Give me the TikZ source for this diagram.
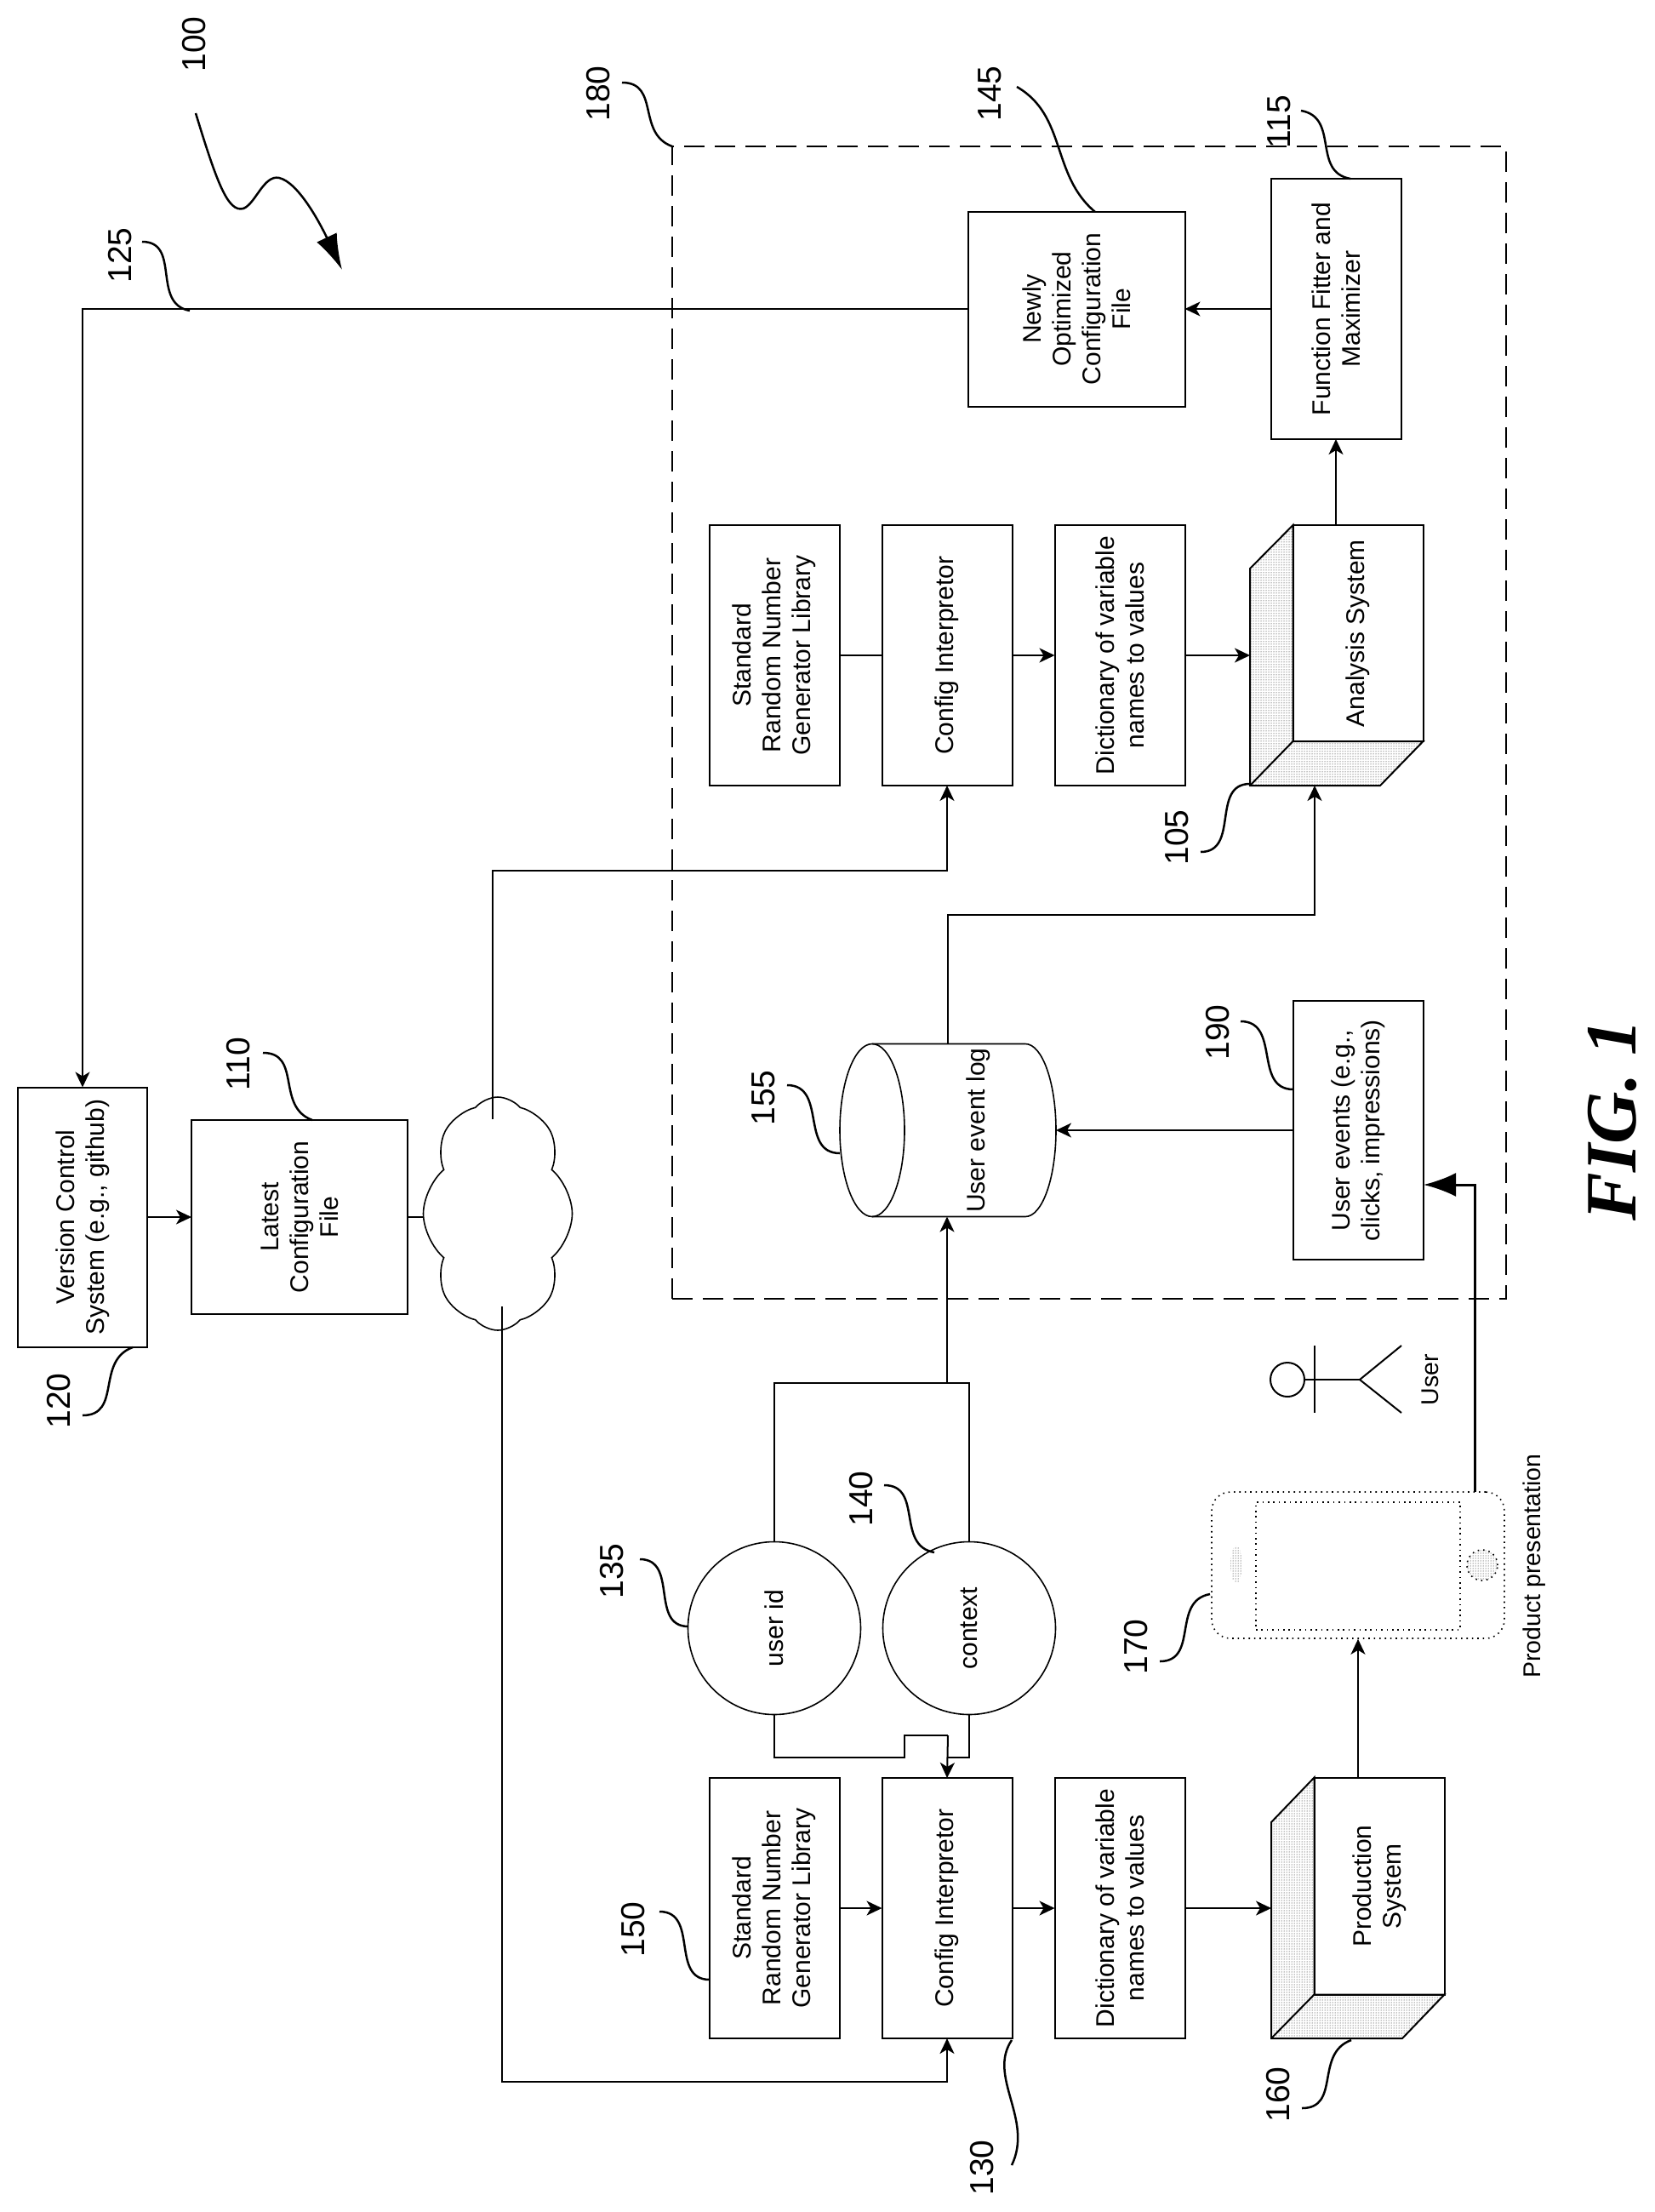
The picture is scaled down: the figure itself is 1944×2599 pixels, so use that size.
\documentclass[tikz,border=0pt]{standalone}
\usepackage{fontspec}
\setmainfont{Liberation Sans}
\newfontfamily\figfont{Liberation Serif}
\usepackage{tikz}
\usetikzlibrary{arrows.meta, shapes, shapes.geometric, shapes.symbols, patterns}

\begin{document}
\begin{tikzpicture}[x=1pt, y=-1pt,
        block/.style={draw, line width=2pt, rotate=90, align=center, inner sep=0pt, outer sep=0pt, font=\fontsize{30}{35}\selectfont},
        rowbox/.style={block, minimum width=306pt, minimum height=153pt},
        flow/.style={line width=2pt, -{Stealth[length=18pt, width=17pt, inset=5pt]}},
        plain/.style={line width=2pt},
        bigflow/.style={line width=3pt, -{Latex[length=38pt, width=28pt]}},
        leader/.style={line width=2.5pt},
        refnum/.style={rotate=90, inner sep=0pt, font=\fontsize{39}{39}\selectfont},
        side/.style={draw, line width=2pt, pattern=dots},
        caption/.style={rotate=90, inner sep=0pt, font=\fontsize{28.5}{28.5}\selectfont},
        phonedot/.style={draw, line width=1.6pt, dash pattern=on 1.6pt off 4.8pt}]
    \useasboundingbox (0,0) rectangle (1944,2599);

    % upper part
    \node[draw, line width=2.5pt, dash pattern=on 24pt off 12pt, minimum width=980pt, minimum height=1354pt, inner sep=0pt] (frame) at (1280,849) {};
    \node[block, minimum width=305pt, minimum height=152pt] (vcs) at (97,1430) {Version Control\\System (e.g., github)};
    \node[block, minimum width=228pt, minimum height=254pt] (latest) at (352,1430) {Latest\\Configuration\\File};
    \node[cloud, draw, line width=1.6pt, rotate=90, cloud puffs=8, cloud puff arc=100, aspect=1.5, inner sep=0pt, minimum width=274pt, minimum height=175pt] (net) at (585,1426) {};
    \node[block, minimum width=229pt, minimum height=255pt] (newly) at (1265,363) {Newly\\Optimized\\Configuration\\File};
    \node[rowbox, minimum height=153pt] (fitter) at (1570,363) {Function Fitter and\\Maximizer};
    \node[rowbox] (srng) at (910,770) {Standard\\Random Number\\Generator Library};
    \node[rowbox] (config) at (1113,770) {Config Interpretor};
    \node[rowbox] (dict) at (1316,770) {Dictionary of variable\\names to values};
    \node[block, minimum width=254pt, minimum height=153pt] (analysis) at (1596,744) {Analysis System};
    \draw[side] (analysis.north east) -- (1469,668) -- (1469,923) -- (1622,923) -- (analysis.south west) -- (analysis.north west) -- cycle;
    \draw[line width=2pt] (analysis.north west) -- (1469,923);
    \node[rotate=90, inner sep=0pt, outer sep=0pt, minimum width=203pt, minimum height=254pt] (log) at (1114,1328) {};
    \node[rotate=90, inner sep=0pt, font=\fontsize{30}{35}\selectfont] (logtext) at (1150,1328) {User event log};
    \draw[line width=1.6pt] (1025,1328) ellipse [x radius=38pt, y radius=101.5pt];
    \draw[line width=1.6pt] (1025,1226.5) -- (1205,1226.5) arc [start angle=90, end angle=-90, x radius=36pt, y radius=101.5pt] -- (1025,1429.5);
    \node[block, minimum width=304pt, minimum height=153pt] (events) at (1596,1328) {User events (e.g.,\\clicks, impressions)};

    % lower part
    \node[block, circle, line width=1.6pt, minimum size=203pt] (userid) at (910,1913) {user id};
    \node[block, circle, line width=1.6pt, minimum size=203pt] (context) at (1139,1913) {context};
    \node[rowbox] (srngb) at (910,2242) {Standard\\Random Number\\Generator Library};
    \node[rowbox] (configb) at (1113,2242) {Config Interpretor};
    \node[rowbox] (dictb) at (1316,2242) {Dictionary of variable\\names to values};
    \node[block, minimum width=255pt, minimum height=153pt] (production) at (1621,2216) {Production\\System};
    \draw[side] (production.north east) -- (1494,2141) -- (1494,2395) -- (1648,2395) -- (production.south west) -- (production.north west) -- cycle;
    \draw[line width=2pt] (production.north west) -- (1494,2395);

    % phone and user
    \node[phonedot, rounded corners=22pt, minimum width=344pt, minimum height=172pt, inner sep=0pt] (phone) at (1596,1839) {};
    \node[phonedot, minimum width=240pt, minimum height=150pt, inner sep=0pt] (screen) at (1596,1840) {};
    \node[ellipse, pattern=dots, minimum width=14pt, minimum height=44pt, inner sep=0pt] (speaker) at (1453,1838) {};
    \node[phonedot, circle, pattern=dots, minimum size=36pt, inner sep=0pt] (homekey) at (1742,1839) {};
    \node[circle, draw, line width=2pt, minimum size=40pt, inner sep=0pt] (head) at (1513,1621) {};
    \coordinate (hips) at (1598,1621);
    \draw[plain] (head) -- (hips);
    \draw[plain] (1545,1581) -- (1545,1660);
    \draw[plain] (1647,1581) -- (hips) -- (1647,1660);
    \node[caption] (usr) at (1681,1621) {User};
    \node[caption] (present) at (1803,1840) {Product presentation};

    % junctions
    \coordinate (netup) at (579,1315);
    \coordinate (netdown) at (590,1535);
    \coordinate (aback) at (1469,770);
    \coordinate (aport) at (1545,923);
    \coordinate (pback) at (1494,2242);
    \coordinate (merge) at (1113,1625);
    \coordinate (phoneout) at (1733,1753);
    \coordinate (eventsin) at (1673,1392);

    % connectors
    \draw[flow] (newly.north) -| (vcs.east);
    \draw[flow] (vcs.south) -- (latest.north);
    \draw[plain] (latest.south) -- (net.north |- latest.south);
    \draw[flow] (netup) -- (579,1023) -| (config.west);
    \draw[flow] (netdown) -- (590,2446) -| (configb.west);
    \draw[plain] (srng.south) -- (config.north);
    \draw[flow] (config.south) -- (dict.north);
    \draw[flow] (dict.south) -- (aback);
    \draw[flow] (fitter.west |- analysis.east) -- (fitter.west);
    \draw[flow] (fitter.north) -- (newly.south);
    \draw[flow] (log.east) -- (1114,1075) -| (aport);
    \draw[flow] (events.north) -- (log.south);
    \draw[plain] (userid.east) |- (merge);
    \draw[plain] (context.east) |- (merge);
    \draw[flow] (merge) -- (merge |- log.west);
    \draw[plain] (userid.west) -- (910,2065) -- (1063,2065) -- (1063,2039) -- (1114,2039);
    \draw[plain] (context.west) |- (1114,2065);
    \draw[flow] (1114,2039) -- (configb.east);
    \draw[flow] (srngb.south) -- (configb.north);
    \draw[flow] (configb.south) -- (dictb.north);
    \draw[flow] (dictb.south) -- (pback);
    \draw[flow] (phone.south |- production.east) -- (phone.south);
    \draw[bigflow] (phoneout) |- (eventsin);

    % reference numerals
    \node[refnum] (n100) at (228,52) {100};
    \draw[leader, -{Latex[length=42pt, width=26pt]}] (230,133) .. controls (255,215) and (268,250) .. (286,245) .. controls (300,240) and (310,205) .. (328,209) .. controls (350,214) and (375,260) .. (402,317);
    \node[refnum] (n125) at (141,300) {125};
    \draw[leader] (167,284) to[out=0, in=170, looseness=1.2] (223,365);
    \node[refnum] (n180) at (703,110) {180};
    \draw[leader] (731,97) to[out=0, in=160, looseness=1.2] (790,172);
    \node[refnum] (n145) at (1163,110) {145};
    \draw[leader] (1195,102) to[out=-30, in=140] (1287,249);
    \node[refnum] (n115) at (1503,143) {115};
    \draw[leader] (1529,130) to[out=-10, in=170, looseness=1.2] (1587,210);
    \node[refnum] (n110) at (280,1250) {110};
    \draw[leader] (309,1237) to[out=0, in=160, looseness=1.2] (367,1316);
    \node[refnum] (n120) at (69,1646) {120};
    \draw[leader] (97,1663) to[out=0, in=200, looseness=1.2] (156,1583);
    \node[refnum] (n105) at (1383,984) {105};
    \draw[leader] (1411,1001) to[out=0, in=180, looseness=1.2] (1469,921);
    \node[refnum] (n155) at (897,1290) {155};
    \draw[leader] (925,1275) to[out=0, in=180, looseness=1.2] (987,1355);
    \node[refnum] (n190) at (1431,1213) {190};
    \draw[leader] (1458,1200) to[out=0, in=180, looseness=1.2] (1520,1280);
    \node[refnum] (n135) at (719,1846) {135};
    \draw[leader] (752,1832) to[out=0, in=180, looseness=1.2] (809,1911);
    \node[refnum] (n140) at (1012,1761) {140};
    \draw[leader] (1039,1745) to[out=0, in=170, looseness=1.2] (1098,1824);
    \node[refnum] (n150) at (744,2267) {150};
    \draw[leader] (775,2246) to[out=0, in=180, looseness=1.2] (834,2326);
    \node[refnum] (n130) at (1154,2547) {130};
    \draw[leader] (1189,2544) .. controls (1215,2490) and (1160,2440) .. (1189,2397);
    \node[refnum] (n160) at (1502,2461) {160};
    \draw[leader] (1530,2477) to[out=0, in=200, looseness=1.2] (1588,2397);
    \node[refnum] (n170) at (1335,1935) {170};
    \draw[leader] (1363,1952) to[out=0, in=190, looseness=1.2] (1422,1873);

    \node[rotate=90, inner sep=0pt, font=\figfont\bfseries\itshape\fontsize{85}{85}\selectfont] (figlabel) at (1895,1316) {FIG. 1};
\end{tikzpicture}
\end{document}
